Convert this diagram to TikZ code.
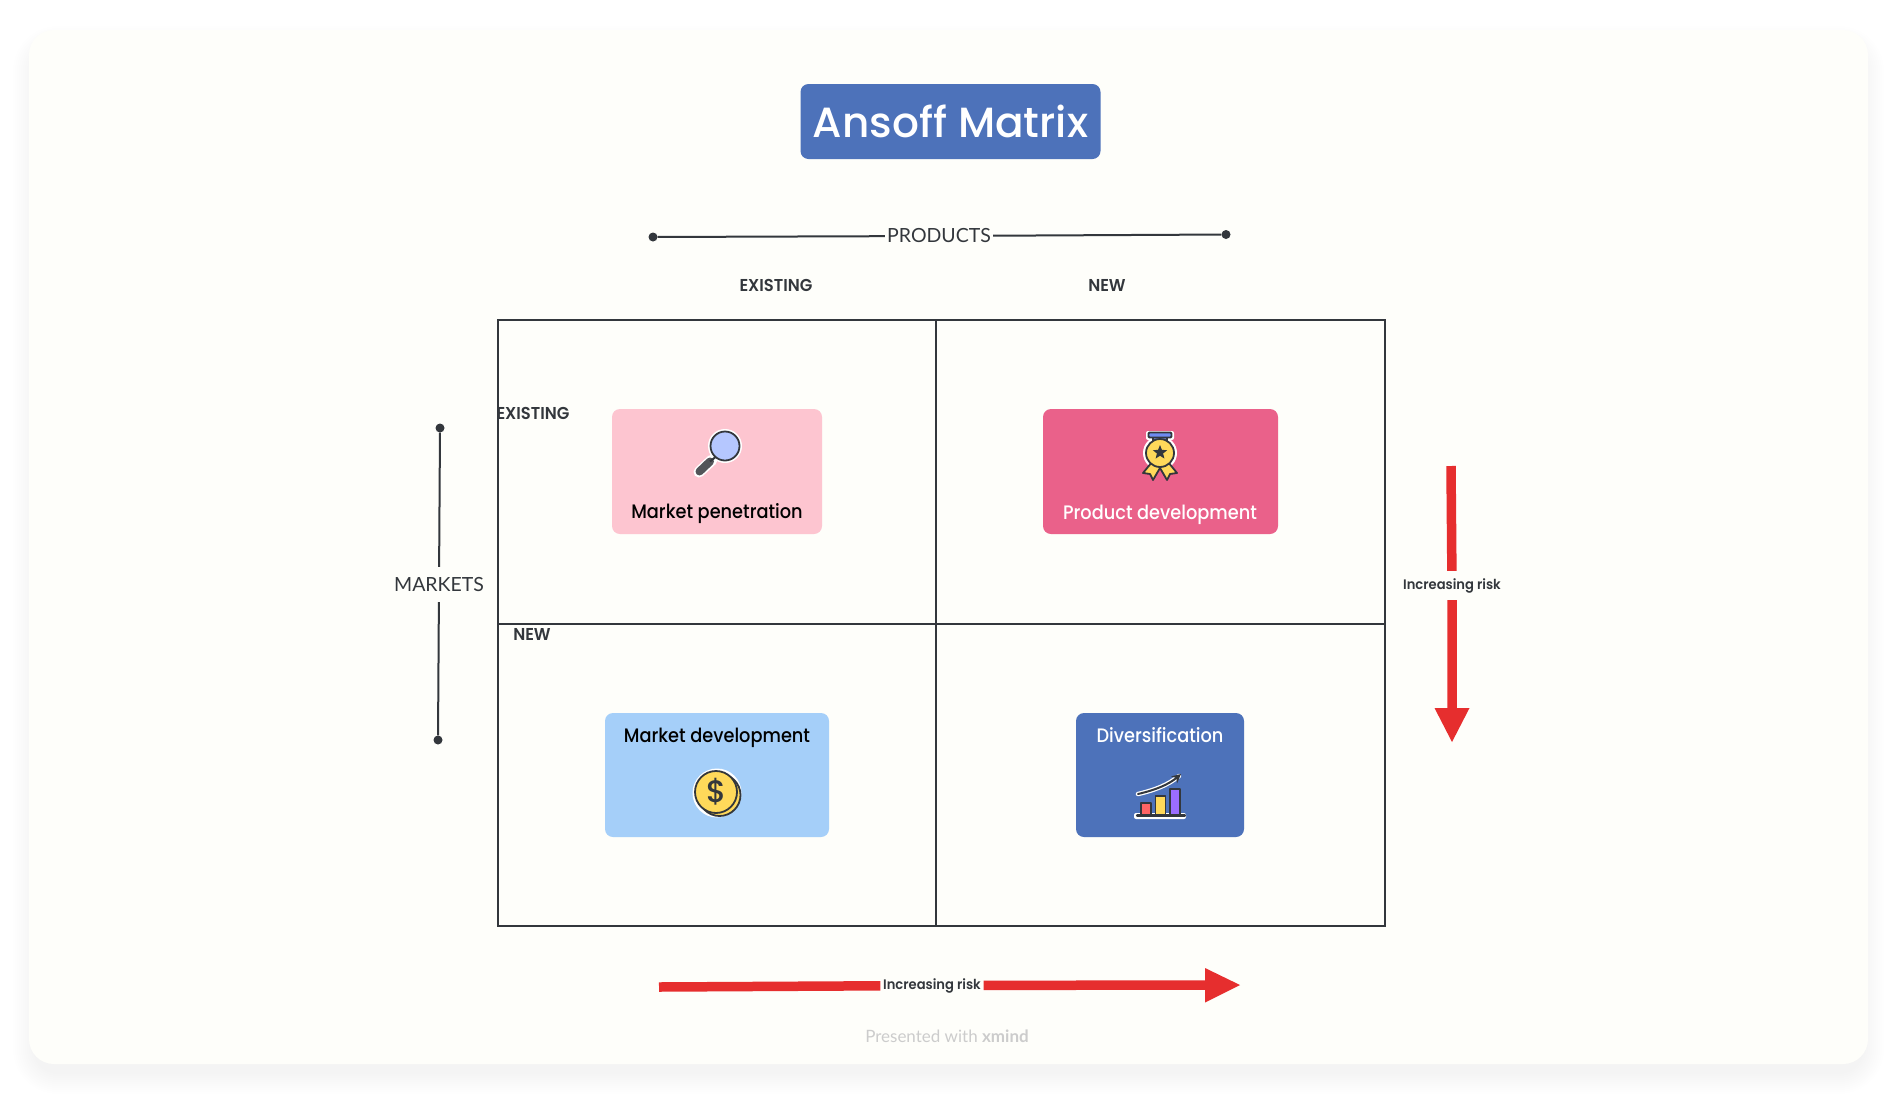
\documentclass[tikz,border=0pt]{standalone}
\usepackage{fontspec}
\setmainfont{Poppins}
\newfontfamily\popm{Poppins Medium}
\newfontfamily\popc{Poppins Medium}[FakeStretch=0.91]
\newfontfamily\hdr{Poppins SemiBold}[FakeStretch=0.95]
\newfontfamily\lab{Lato}
\usetikzlibrary{arrows.meta,shapes.geometric}
\definecolor{cardbg}{HTML}{FEFEFA}
\definecolor{blueb}{HTML}{4D72BA}
\definecolor{pinkl}{HTML}{FDC5D0}
\definecolor{pinkd}{HTML}{EA618A}
\definecolor{bluel}{HTML}{A5CFF9}
\definecolor{inkd}{HTML}{33373C}
\definecolor{riskred}{HTML}{E62E2E}
\definecolor{goldy}{HTML}{FFD95A}
\definecolor{lens}{HTML}{B5C7FF}
\definecolor{ribbon}{HTML}{6E8BF0}
\definecolor{barred}{HTML}{FF6464}
\definecolor{barviolet}{HTML}{9B6DFF}
\tikzset{
  x=1pt,y=-1pt,
  gridline/.style={draw=inkd,line width=2pt},
  axisline/.style={draw=inkd,line width=2pt},
  riskline/.style={draw=riskred,line width=9.5pt},
  riskhead/.style={fill=riskred,draw=none},
  dotend/.style={circle,fill=inkd,inner sep=0pt,minimum size=9pt},
  axislabel/.style={font=\lab\fontsize{19.5}{24}\selectfont,text=inkd,fill=cardbg,inner xsep=2pt,inner ysep=0pt,minimum height=35pt},
  headlabel/.style={font=\hdr\fontsize{17.2}{20}\selectfont,text=inkd,inner sep=0pt},
  risklabel/.style={font=\hdr\fontsize{13.8}{18}\selectfont,text=inkd,fill=cardbg,inner xsep=2.5pt,inner ysep=0pt,minimum height=29pt},
  cardbox/.style={rounded corners=8pt,draw=none},
  cardtext/.style={font=\popc\fontsize{19.5}{24}\selectfont,inner sep=0pt},
  iconline/.style={draw=inkd,line width=1.8pt,line join=round},
}
\begin{document}
\begin{tikzpicture}
\useasboundingbox (0,0) rectangle (1896,1093);
\fill[white] (0,0) rectangle (1896,1093);
% soft shadow
\foreach \k in {0,2,...,20}{
  \fill[black,fill opacity=0.005,rounded corners={25pt+\k pt}]
    (33-\k,46-\k) rectangle (1864+\k,1074+\k);
}
\fill[cardbg,rounded corners=25pt] (29,30) rectangle (1868,1064);

% title
\node[fill=blueb,rounded corners=8pt,minimum width=300pt,minimum height=75pt,inner sep=0pt,text=white,
  font=\popm\fontsize{42.2}{48}\selectfont] (title) at (950.5,121.5) {Ansoff Matrix};

% products axis
\node[dotend] (pa) at (653,237) {};
\node[dotend] (pb) at (1226,234.5) {};
\node[axislabel] (pl) at (939,236) {PRODUCTS};
\draw[axisline] (pa) -- (pl) -- (pb);
\node[headlabel] (h1) at (776,285) {EXISTING};
\node[headlabel] (h2) at (1107,285) {NEW};

% markets axis
\node[dotend] (ma) at (440,428) {};
\node[dotend] (mb) at (438,740) {};
\node[axislabel] (ml) at (439,584.5) {MARKETS};
\draw[axisline] (ma) -- (ml) -- (mb);
\node[headlabel] (h3) at (533,413) {EXISTING};
\node[headlabel] (h4) at (532,634) {NEW};

% grid
\draw[gridline] (498,320) rectangle (1385,926);
\coordinate (gt) at (936,320); \coordinate (gb) at (936,926);
\coordinate (gl) at (498,624); \coordinate (gr) at (1385,624);
\draw[gridline] (gt) -- (gb);
\draw[gridline] (gl) -- (gr);

% cards
\fill[pinkl,cardbox] (612,409) rectangle (822,534);
\fill[pinkd,cardbox] (1043,409) rectangle (1278,534);
\fill[bluel,cardbox] (605,713) rectangle (829,837);
\fill[blueb,cardbox] (1076,713) rectangle (1244,837);
\node[cardtext,text=black] (t1) at (717,513.5) {Market penetration};
\node[cardtext,text=white] (t2) at (1160,514.5) {Product development};
\node[cardtext,text=black] (t3) at (717,738) {Market development};
\node[cardtext,text=white] (t4) at (1160,735.5) {Diversification};

% magnifier
\draw[white,line width=11pt,line cap=round] (699,472) -- (712,460);
\fill[white] (725,446) circle (17);
\draw[inkd!85!white,line width=8pt,line cap=round] (699.5,471.5) -- (710,461.5);
\draw[inkd,line width=2pt] (710,461.5) -- (718,455);
\draw[iconline,fill=lens] (725,446) circle (14.5);

% medal
\fill[white] (1160,453) circle (17);
\fill[white,rounded corners=2pt] (1146,431) rectangle (1174,440);
\draw[iconline,fill=goldy] (1152,462) -- (1143,473) -- (1150,474) -- (1153,480) -- (1160,468) -- (1167,480) -- (1170,474) -- (1177,473) -- (1168,462) -- cycle;
\draw[iconline,fill=ribbon] (1153,436) rectangle (1167,446);
\draw[iconline,fill=ribbon,rounded corners=1pt] (1148.5,432.5) rectangle (1171.5,437.5);
\draw[iconline,fill=goldy] (1160,453) circle (14);
\node[star,star points=5,star point ratio=2.3,fill=inkd,inner sep=0pt,minimum size=15pt] (medalstar) at (1160,452.5) {};

% coin
\fill[white] (717,793) circle (24.5);
\draw[iconline,fill=goldy] (719.5,795) circle (21);
\draw[iconline,fill=goldy] (716,792) circle (21);
\node[font=\popm\fontsize{31}{31}\selectfont,text=inkd,inner sep=0pt] (dollar) at (717,792) {\$};

% chart
\fill[rounded corners=2pt,white] (1134,813) rectangle (1186,819);
\draw[iconline,fill=barred] (1141,803) rectangle (1151,816);
\draw[iconline,fill=goldy] (1155.5,796) rectangle (1165.5,816);
\draw[iconline,fill=barviolet] (1170,789) rectangle (1180,816);
\draw[inkd,line width=2.2pt,line cap=round] (1137,815.5) -- (1185,815.5);
\draw[white,line width=4.5pt,line cap=round] (1138,794) .. controls (1155,790) and (1168,785) .. (1179,776);
\draw[inkd,line width=2pt,line cap=round,-{Stealth[length=9pt,width=9pt]}] (1138,794) .. controls (1155,790) and (1168,785) .. (1181,774);

% risk arrows
\coordinate (ra) at (1451,466);
\node[risklabel] (rl) at (1452,585.5) {Increasing risk};
\coordinate (rb) at (1452,708);
\coordinate (rt) at (1452,742);
\draw[riskline] (ra) -- (rl) -- (rb);
\fill[riskhead] (1434.5,708) -- (1469.5,708) -- (rt) -- cycle;

\coordinate (ba) at (659,987);
\node[risklabel] (bl) at (932,985.5) {Increasing risk};
\coordinate (bb) at (1205,985);
\coordinate (bt) at (1240,985);
\draw[riskline] (ba) -- (bl) -- (bb);
\fill[riskhead] (1205,968) -- (1205,1002.5) -- (bt) -- cycle;

% footer
\node[font=\lab\fontsize{17}{18}\selectfont,text=black!20,inner sep=0pt] (foot) at (947,1036) {Presented with {\bfseries xmind}};
\end{tikzpicture}
\end{document}
